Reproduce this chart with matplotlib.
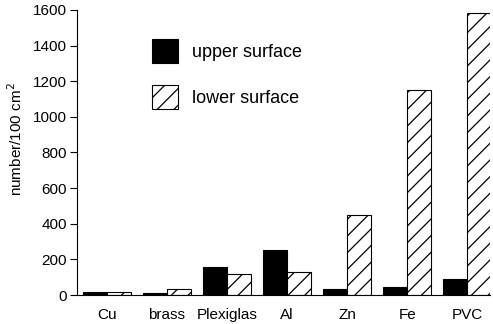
import matplotlib.pyplot as plt
import numpy as np

plt.rcParams["font.family"] = ["Liberation Sans", "DejaVu Sans"]
plt.rcParams["hatch.linewidth"] = 0.9

materials = ["Cu", "brass", "Plexiglas", "Al", "Zn", "Fe", "PVC"]
upper_surface = [15, 12, 155, 250, 35, 45, 90]
lower_surface = [15, 35, 120, 130, 450, 1150, 1585]

fig = plt.figure(figsize=(4.93, 3.24), dpi=100)
ax = fig.add_axes([0.156, 0.0895, 0.838, 0.880])

x = np.arange(len(materials))
width = 0.4
ax.bar(x - width / 2, upper_surface, width, color="black", edgecolor="black",
       linewidth=0.8, label="upper surface")
ax.bar(x + width / 2, lower_surface, width, color="white", edgecolor="black",
       linewidth=0.8, hatch="//", label="lower surface")

ax.set_xlim(-0.5, 6.38)
ax.set_ylim(0, 1600)
ax.set_yticks(range(0, 1601, 200))
ax.set_xticks(x)
ax.set_xticklabels(materials, fontsize=11)
ax.tick_params(axis="x", length=0, pad=9)
ax.tick_params(axis="y", labelsize=11, length=5, width=0.8, pad=2,
               direction="out")
ax.set_ylabel("number/100 cm$^2$", fontsize=11)
ax.yaxis.set_label_coords(-0.125, 0.547)

for side in ["top", "right"]:
    ax.spines[side].set_visible(False)
ax.spines["left"].set_linewidth(0.8)
ax.spines["bottom"].set_linewidth(0.8)

ax.legend(loc="upper left", bbox_to_anchor=(0.161, 0.93), frameon=False,
          borderpad=0, fontsize=13, handlelength=1.4, handleheight=1.65,
          labelspacing=1.25, handletextpad=0.8)

fig.savefig("out.png", dpi=100)
